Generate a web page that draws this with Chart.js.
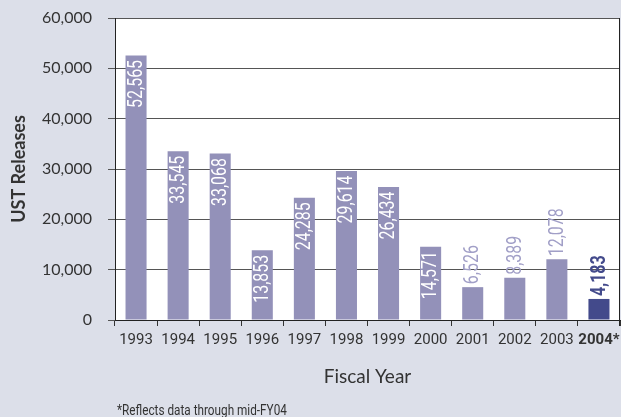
<!DOCTYPE html>
<html>
<head>
<meta charset="utf-8">
<title>UST Releases by Fiscal Year</title>
<script src="https://cdn.jsdelivr.net/npm/chart.js@4.4.0/dist/chart.umd.min.js"></script>
<style>
  html, body { margin: 0; padding: 0; background: #dcdfe9; }
  #wrap { width: 621px; height: 417px; position: relative; }
</style>
</head>
<body>
<div id="wrap"><canvas id="releasesChart"></canvas></div>
<script>
// --- Datos del gráfico ---
const years = ['1993','1994','1995','1996','1997','1998','1999','2000','2001','2002','2003','2004*'];
const releases = [52565, 33545, 33068, 13853, 24285, 29614, 26434, 14571, 6526, 8389, 12078, 4183];
const yTickValues = [0, 10000, 20000, 30000, 40000, 50000, 60000];
const footnoteText = '*Reflects data through mid-FY04';

// --- Estilo ---
const NARROW = 'Roboto, "Liberation Sans", sans-serif';
const LAV = '#9391b9';
const LAV_LABEL = '#a19fc7';
const DARK = '#434a8b';
const TEXT = '#333333';
const highlightIndex = years.length - 1; // el año parcial va en azul oscuro

// fondo blanco del área + borde derecho
const plotBox = {
  id: 'plotBox',
  beforeDraw(chart) {
    const { ctx, chartArea: a } = chart;
    ctx.save();
    ctx.fillStyle = '#ffffff';
    ctx.fillRect(a.left, a.top, a.right - a.left, a.bottom - a.top);
    ctx.restore();
  },
  afterDraw(chart) {
    const { ctx, chartArea: a } = chart;
    ctx.save();
    ctx.strokeStyle = '#222';
    ctx.lineWidth = 1;
    ctx.beginPath();
    ctx.moveTo(a.right - 0.5, a.top);
    ctx.lineTo(a.right - 0.5, a.bottom + 6);
    ctx.stroke();
    ctx.restore();
  }
};

// etiquetas verticales de cada barra (texto algo comprimido, como en el original)
const barLabels = {
  id: 'barLabels',
  afterDatasetsDraw(chart) {
    const ctx = chart.ctx;
    const meta = chart.getDatasetMeta(0);
    meta.data.forEach((bar, i) => {
      const text = releases[i].toLocaleString('en-US');
      const isLast = i === highlightIndex;
      const inside = (bar.base - bar.y) > 65;
      ctx.save();
      ctx.font = (isLast ? 'bold ' : '') + '21px ' + NARROW;
      ctx.textBaseline = 'middle';
      ctx.translate(bar.x + 0.5, inside ? bar.y + 4.5 : bar.y - 3);
      ctx.rotate(-Math.PI / 2);
      ctx.scale(0.76, 1);
      ctx.textAlign = inside ? 'right' : 'left';
      ctx.fillStyle = inside ? '#ffffff' : (isLast ? DARK : LAV_LABEL);
      ctx.fillText(text, 0, 0);
      ctx.restore();
    });
  }
};

// nota al pie
const footnote = {
  id: 'footnote',
  afterDraw(chart) {
    const ctx = chart.ctx;
    ctx.save();
    ctx.font = '14px ' + NARROW;
    ctx.fillStyle = TEXT;
    ctx.textAlign = 'left';
    ctx.textBaseline = 'middle';
    ctx.translate(117, 411);
    ctx.scale(0.84, 1);
    ctx.fillText(footnoteText, 0, 0);
    ctx.restore();
  }
};

const ctx = document.getElementById('releasesChart').getContext('2d');
new Chart(ctx, {
  type: 'bar',
  data: {
    labels: years,
    datasets: [{
      data: releases,
      backgroundColor: years.map((y, i) => i === highlightIndex ? DARK : LAV),
      borderWidth: 0,
      barPercentage: 0.5,
      categoryPercentage: 1
    }]
  },
  options: {
    responsive: true,
    maintainAspectRatio: false,
    animation: false,
    layout: { padding: { top: 18, right: 1, left: 0, bottom: 0 } },
    plugins: { legend: { display: false }, tooltip: { enabled: false } },
    scales: {
      x: {
        grid: { offset: true, drawOnChartArea: false, tickLength: 6, color: '#333' },
        border: { color: '#222' },
        ticks: {
          padding: 5,
          color: TEXT,
          autoSkip: false,
          maxRotation: 0,
          font: c => ({ family: NARROW, size: 15, weight: c.index === highlightIndex ? 'bold' : 'normal' })
        },
        title: {
          display: true,
          text: 'Fiscal Year',
          color: TEXT,
          font: { family: 'Lato', size: 19 },
          padding: { top: 0, bottom: 29 }
        },
        afterFit: s => { s.height = 97; s.paddingLeft = 0; s.paddingRight = 0; }
      },
      y: {
        min: 0,
        max: 60000,
        afterBuildTicks: s => { s.ticks = yTickValues.map(v => ({ value: v })); },
        grid: { color: '#555', tickLength: 7 },
        border: { color: '#222' },
        ticks: {
          padding: 16,
          color: TEXT,
          font: { family: 'Lato', size: 16 },
          callback: v => Number(v).toLocaleString('en-US')
        },
        title: {
          display: true,
          text: 'UST Releases',
          color: TEXT,
          font: { family: 'Lato', size: 18, weight: 'bold' },
          padding: { top: 8, bottom: 0 }
        },
        afterFit: s => { s.width = 115; s.paddingTop = 0; s.paddingBottom = 0; }
      }
    }
  },
  plugins: [plotBox, barLabels, footnote]
});
</script>
</body>
</html>
